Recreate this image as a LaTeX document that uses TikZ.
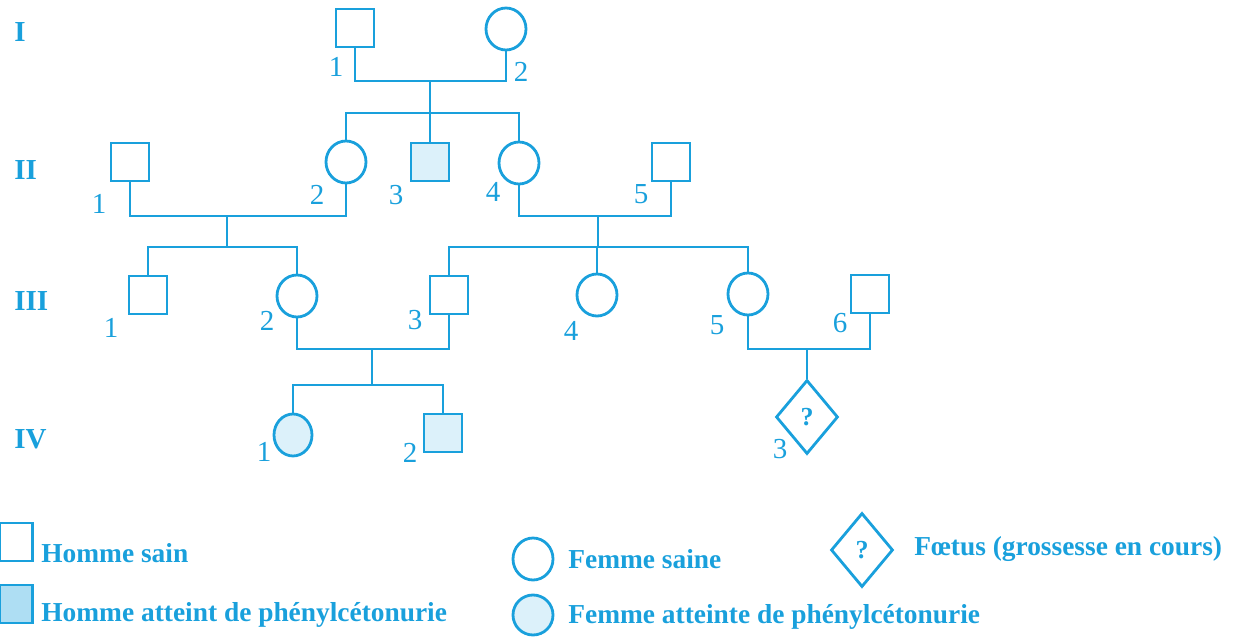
\documentclass[tikz,border=0pt]{standalone}
\usepackage{fontspec}
\setmainfont{Liberation Serif}
\usetikzlibrary{shapes.geometric}
\definecolor{pedblue}{RGB}{25,160,220}
\begin{document}
\begin{tikzpicture}[
x=0.5pt, y=-0.5pt,
line width=1.4pt, pedblue,
every node/.style={inner sep=0pt, text=pedblue},
male/.style={draw, rectangle, minimum width=19pt, minimum height=19pt},
female/.style={draw, ellipse, minimum width=20pt, minimum height=21pt},
fetus/.style={draw, diamond, minimum width=31pt, minimum height=37pt,
  font=\fontsize{13}{15}\selectfont\bfseries},
sick/.style={fill=pedblue!15},
num/.style={font=\fontsize{14.5}{16}\selectfont},
gen/.style={anchor=west, font=\fontsize{14.5}{16}\selectfont\bfseries},
legtext/.style={anchor=base west, font=\fontsize{13.7}{16}\selectfont\bfseries}
]
\useasboundingbox (0,0) rectangle (1239,637);

\node[gen] (gI) at (13,32) {I};
\node[gen] (gII) at (13,170) {II};
\node[gen] (gIII) at (13,301) {III};
\node[gen] (gIV) at (13,439) {IV};

\node[male] (i1) at (355,28) {};
\node[female] (i2) at (506,29) {};
\node[male] (ii1) at (130,162) {};
\node[female] (ii2) at (346,162) {};
\node[male, sick] (ii3) at (430,162) {};
\node[female] (ii4) at (519,163) {};
\node[male] (ii5) at (671,162) {};
\node[male] (iii1) at (148,295) {};
\node[female] (iii2) at (297,296) {};
\node[male] (iii3) at (449,295) {};
\node[female] (iii4) at (597,295) {};
\node[female] (iii5) at (748,294) {};
\node[male] (iii6) at (870,294) {};
\node[female, sick, minimum width=19pt] (iv1) at (293,435) {};
\node[male, sick] (iv2) at (443,433) {};
\node[fetus] (iv3) at (807,417) {?};

\node[num] (ni1) at (336,67) {1};
\node[num] (ni2) at (521,72) {2};
\node[num] (nii1) at (99,204) {1};
\node[num] (nii2) at (317,195) {2};
\node[num] (nii3) at (396,195) {3};
\node[num] (nii4) at (493,192) {4};
\node[num] (nii5) at (641,194) {5};
\node[num] (niii1) at (111,328) {1};
\node[num] (niii2) at (267,321) {2};
\node[num] (niii3) at (415,320) {3};
\node[num] (niii4) at (571,331) {4};
\node[num] (niii5) at (717,325) {5};
\node[num] (niii6) at (840,323) {6};
\node[num] (niv1) at (264,452) {1};
\node[num] (niv2) at (410,453) {2};
\node[num] (niv3) at (780,449) {3};

\coordinate (m1) at (430,81);
\coordinate (s1) at (430,113);
\coordinate (m2) at (227,216);
\coordinate (s2) at (227,247);
\coordinate (m3) at (598,216);
\coordinate (s3) at (598,247);
\coordinate (m4) at (372,349);
\coordinate (s4) at (372,385);
\coordinate (m5) at (807,349);

\draw (i1) -- (i1 |- m1) -- (i2 |- m1) -- (i2);
\draw (m1) -- (s1);
\draw (ii2) -- (ii2 |- s1) -- (ii4 |- s1) -- (ii4);
\draw (ii3) -- (ii3 |- s1);

\draw (ii1) -- (ii1 |- m2) -- (ii2 |- m2) -- (ii2);
\draw (m2) -- (s2);
\draw (iii1) -- (iii1 |- s2) -- (iii2 |- s2) -- (iii2);

\draw (ii4) -- (ii4 |- m3) -- (ii5 |- m3) -- (ii5);
\draw (m3) -- (s3);
\draw (iii3) -- (iii3 |- s3) -- (iii5 |- s3) -- (iii5);
\draw (iii4) -- (iii4 |- s3);

\draw (iii2) -- (iii2 |- m4) -- (iii3 |- m4) -- (iii3);
\draw (m4) -- (s4);
\draw (iv1) -- (iv1 |- s4) -- (iv2 |- s4) -- (iv2);

\draw (iii5) -- (iii5 |- m5) -- (iii6 |- m5) -- (iii6);
\draw (m5) -- (iv3);

% legende
\node[male, minimum width=16.5pt] (lm) at (16,542) {};
\node[legtext] (tlm) at (40,562) {Homme sain};
\node[male, minimum width=16.5pt, fill=pedblue!35] (lma) at (16,604) {};
\node[legtext] (tlma) at (40,621) {Homme atteint de phénylcétonurie};
\node[female] (lf) at (533,559) {};
\node[legtext] (tlf) at (567,568) {Femme saine};
\node[female, sick, minimum height=20pt] (lfa) at (533,615) {};
\node[legtext] (tlfa) at (567,623) {Femme atteinte de phénylcétonurie};
\node[fetus] (lfe) at (862,550) {?};
\node[legtext] (tlfe) at (913,555) {Fœtus (grossesse en cours)};
\end{tikzpicture}
\end{document}
